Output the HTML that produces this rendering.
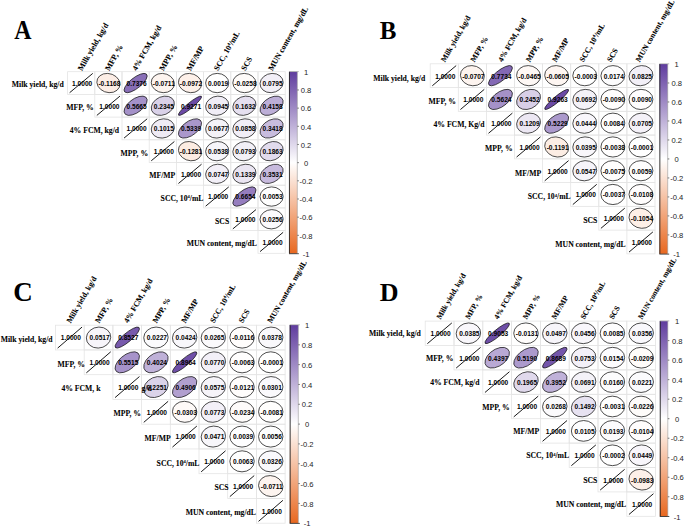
<!DOCTYPE html>
<html><head><meta charset="utf-8"><style>
html,body{margin:0;padding:0;background:#fff;width:685px;height:527px;overflow:hidden}
svg{display:block}

</style></head><body>
<svg width="685" height="527" viewBox="0 0 685 527">
<rect width="685" height="527" fill="#fff"/>
<g fill="none" stroke="#e4e4e4" stroke-width="0.8">
<rect x="67.60" y="71.70" width="27.20" height="22.70"/>
<rect x="94.80" y="71.70" width="27.20" height="22.70"/>
<rect x="122.00" y="71.70" width="27.20" height="22.70"/>
<rect x="149.20" y="71.70" width="27.20" height="22.70"/>
<rect x="176.40" y="71.70" width="27.20" height="22.70"/>
<rect x="203.60" y="71.70" width="27.20" height="22.70"/>
<rect x="230.80" y="71.70" width="27.20" height="22.70"/>
<rect x="258.00" y="71.70" width="27.20" height="22.70"/>
<rect x="94.80" y="94.40" width="27.20" height="22.70"/>
<rect x="122.00" y="94.40" width="27.20" height="22.70"/>
<rect x="149.20" y="94.40" width="27.20" height="22.70"/>
<rect x="176.40" y="94.40" width="27.20" height="22.70"/>
<rect x="203.60" y="94.40" width="27.20" height="22.70"/>
<rect x="230.80" y="94.40" width="27.20" height="22.70"/>
<rect x="258.00" y="94.40" width="27.20" height="22.70"/>
<rect x="122.00" y="117.10" width="27.20" height="22.70"/>
<rect x="149.20" y="117.10" width="27.20" height="22.70"/>
<rect x="176.40" y="117.10" width="27.20" height="22.70"/>
<rect x="203.60" y="117.10" width="27.20" height="22.70"/>
<rect x="230.80" y="117.10" width="27.20" height="22.70"/>
<rect x="258.00" y="117.10" width="27.20" height="22.70"/>
<rect x="149.20" y="139.80" width="27.20" height="22.70"/>
<rect x="176.40" y="139.80" width="27.20" height="22.70"/>
<rect x="203.60" y="139.80" width="27.20" height="22.70"/>
<rect x="230.80" y="139.80" width="27.20" height="22.70"/>
<rect x="258.00" y="139.80" width="27.20" height="22.70"/>
<rect x="176.40" y="162.50" width="27.20" height="22.70"/>
<rect x="203.60" y="162.50" width="27.20" height="22.70"/>
<rect x="230.80" y="162.50" width="27.20" height="22.70"/>
<rect x="258.00" y="162.50" width="27.20" height="22.70"/>
<rect x="203.60" y="185.20" width="27.20" height="22.70"/>
<rect x="230.80" y="185.20" width="27.20" height="22.70"/>
<rect x="258.00" y="185.20" width="27.20" height="22.70"/>
<rect x="230.80" y="207.90" width="27.20" height="22.70"/>
<rect x="258.00" y="207.90" width="27.20" height="22.70"/>
<rect x="258.00" y="230.60" width="27.20" height="22.70"/>
</g>
<g transform="translate(67.60 71.70) scale(27.200 22.700)">
<line x1="0.075" y1="0.925" x2="0.925" y2="0.075" stroke="#1a1a1a" stroke-width="1.0" vector-effect="non-scaling-stroke"/>
<ellipse cx="1.500" cy="0.500" rx="0.3994" ry="0.4491" transform="rotate(-45 1.500 0.500)" fill="#fcede5" stroke="#111" stroke-width="0.75" vector-effect="non-scaling-stroke"/>
<ellipse cx="2.500" cy="0.500" rx="0.5602" ry="0.2177" transform="rotate(-45 2.500 0.500)" fill="#896fb7" stroke="#111" stroke-width="0.75" vector-effect="non-scaling-stroke"/>
<ellipse cx="3.500" cy="0.500" rx="0.4096" ry="0.4398" transform="rotate(-45 3.500 0.500)" fill="#fdf4ef" stroke="#111" stroke-width="0.75" vector-effect="non-scaling-stroke"/>
<ellipse cx="4.500" cy="0.500" rx="0.4038" ry="0.4452" transform="rotate(-45 4.500 0.500)" fill="#fdf0e9" stroke="#111" stroke-width="0.75" vector-effect="non-scaling-stroke"/>
<ellipse cx="5.500" cy="0.500" rx="0.4254" ry="0.4246" transform="rotate(-45 5.500 0.500)" fill="#ffffff" stroke="#111" stroke-width="0.75" vector-effect="non-scaling-stroke"/>
<ellipse cx="6.500" cy="0.500" rx="0.4195" ry="0.4304" transform="rotate(-45 6.500 0.500)" fill="#fefbf9" stroke="#111" stroke-width="0.75" vector-effect="non-scaling-stroke"/>
<ellipse cx="7.500" cy="0.500" rx="0.4416" ry="0.4078" transform="rotate(-45 7.500 0.500)" fill="#f2eff7" stroke="#111" stroke-width="0.75" vector-effect="non-scaling-stroke"/>
<line x1="1.075" y1="1.925" x2="1.925" y2="1.075" stroke="#1a1a1a" stroke-width="1.0" vector-effect="non-scaling-stroke"/>
<ellipse cx="2.500" cy="1.500" rx="0.5319" ry="0.2798" transform="rotate(-45 2.500 1.500)" fill="#a491c8" stroke="#111" stroke-width="0.75" vector-effect="non-scaling-stroke"/>
<ellipse cx="3.500" cy="1.500" rx="0.4722" ry="0.3718" transform="rotate(-45 3.500 1.500)" fill="#d9d1e8" stroke="#111" stroke-width="0.75" vector-effect="non-scaling-stroke"/>
<ellipse cx="4.500" cy="1.500" rx="0.5900" ry="0.1147" transform="rotate(-45 4.500 1.500)" fill="#6b4aa5" stroke="#111" stroke-width="0.75" vector-effect="non-scaling-stroke"/>
<ellipse cx="5.500" cy="1.500" rx="0.4446" ry="0.4044" transform="rotate(-45 5.500 1.500)" fill="#f0edf6" stroke="#111" stroke-width="0.75" vector-effect="non-scaling-stroke"/>
<ellipse cx="6.500" cy="1.500" rx="0.4584" ry="0.3888" transform="rotate(-45 6.500 1.500)" fill="#e5dfef" stroke="#111" stroke-width="0.75" vector-effect="non-scaling-stroke"/>
<ellipse cx="7.500" cy="1.500" rx="0.5057" ry="0.3248" transform="rotate(-45 7.500 1.500)" fill="#bcaed7" stroke="#111" stroke-width="0.75" vector-effect="non-scaling-stroke"/>
<line x1="2.075" y1="2.925" x2="2.925" y2="2.075" stroke="#1a1a1a" stroke-width="1.0" vector-effect="non-scaling-stroke"/>
<ellipse cx="3.500" cy="2.500" rx="0.4460" ry="0.4029" transform="rotate(-45 3.500 2.500)" fill="#efebf5" stroke="#111" stroke-width="0.75" vector-effect="non-scaling-stroke"/>
<ellipse cx="4.500" cy="2.500" rx="0.5264" ry="0.2902" transform="rotate(-45 4.500 2.500)" fill="#aa97cb" stroke="#111" stroke-width="0.75" vector-effect="non-scaling-stroke"/>
<ellipse cx="5.500" cy="2.500" rx="0.4392" ry="0.4104" transform="rotate(-45 5.500 2.500)" fill="#f4f2f8" stroke="#111" stroke-width="0.75" vector-effect="non-scaling-stroke"/>
<ellipse cx="6.500" cy="2.500" rx="0.4429" ry="0.4064" transform="rotate(-45 6.500 2.500)" fill="#f1eef7" stroke="#111" stroke-width="0.75" vector-effect="non-scaling-stroke"/>
<ellipse cx="7.500" cy="2.500" rx="0.4923" ry="0.3448" transform="rotate(-45 7.500 2.500)" fill="#c8bcde" stroke="#111" stroke-width="0.75" vector-effect="non-scaling-stroke"/>
<line x1="3.075" y1="3.925" x2="3.925" y2="3.075" stroke="#1a1a1a" stroke-width="1.0" vector-effect="non-scaling-stroke"/>
<ellipse cx="4.500" cy="3.500" rx="0.3968" ry="0.4514" transform="rotate(-45 4.500 3.500)" fill="#fcece2" stroke="#111" stroke-width="0.75" vector-effect="non-scaling-stroke"/>
<ellipse cx="5.500" cy="3.500" rx="0.4363" ry="0.4134" transform="rotate(-45 5.500 3.500)" fill="#f6f5fa" stroke="#111" stroke-width="0.75" vector-effect="non-scaling-stroke"/>
<ellipse cx="6.500" cy="3.500" rx="0.4415" ry="0.4078" transform="rotate(-45 6.500 3.500)" fill="#f2f0f7" stroke="#111" stroke-width="0.75" vector-effect="non-scaling-stroke"/>
<ellipse cx="7.500" cy="3.500" rx="0.4629" ry="0.3834" transform="rotate(-45 7.500 3.500)" fill="#e1dbed" stroke="#111" stroke-width="0.75" vector-effect="non-scaling-stroke"/>
<line x1="4.075" y1="4.925" x2="4.925" y2="4.075" stroke="#1a1a1a" stroke-width="1.0" vector-effect="non-scaling-stroke"/>
<ellipse cx="5.500" cy="4.500" rx="0.4406" ry="0.4088" transform="rotate(-45 5.500 4.500)" fill="#f3f0f8" stroke="#111" stroke-width="0.75" vector-effect="non-scaling-stroke"/>
<ellipse cx="6.500" cy="4.500" rx="0.4526" ry="0.3955" transform="rotate(-45 6.500 4.500)" fill="#eae5f2" stroke="#111" stroke-width="0.75" vector-effect="non-scaling-stroke"/>
<ellipse cx="7.500" cy="4.500" rx="0.4944" ry="0.3418" transform="rotate(-45 7.500 4.500)" fill="#c7badd" stroke="#111" stroke-width="0.75" vector-effect="non-scaling-stroke"/>
<line x1="5.075" y1="5.925" x2="5.925" y2="5.075" stroke="#1a1a1a" stroke-width="1.0" vector-effect="non-scaling-stroke"/>
<ellipse cx="6.500" cy="5.500" rx="0.5485" ry="0.2458" transform="rotate(-45 6.500 5.500)" fill="#957dbe" stroke="#111" stroke-width="0.75" vector-effect="non-scaling-stroke"/>
<ellipse cx="7.500" cy="5.500" rx="0.4261" ry="0.4239" transform="rotate(-45 7.500 5.500)" fill="#fefefe" stroke="#111" stroke-width="0.75" vector-effect="non-scaling-stroke"/>
<line x1="6.075" y1="6.925" x2="6.925" y2="6.075" stroke="#1a1a1a" stroke-width="1.0" vector-effect="non-scaling-stroke"/>
<ellipse cx="7.500" cy="6.500" rx="0.4304" ry="0.4195" transform="rotate(-45 7.500 6.500)" fill="#fbfafd" stroke="#111" stroke-width="0.75" vector-effect="non-scaling-stroke"/>
<line x1="7.075" y1="7.925" x2="7.925" y2="7.075" stroke="#1a1a1a" stroke-width="1.0" vector-effect="non-scaling-stroke"/>
</g>
<g font-family="Liberation Sans" font-weight="bold" font-size="6.60" fill="#000" text-anchor="middle">
<text transform="translate(82.20 85.93) scale(1.000 1)">1.0000</text>
<text transform="translate(109.40 85.93) scale(1.000 1)">-0.1168</text>
<text transform="translate(136.60 85.93) scale(1.000 1)">0.7376</text>
<text transform="translate(163.80 85.93) scale(1.000 1)">-0.0711</text>
<text transform="translate(191.00 85.93) scale(1.000 1)">-0.0972</text>
<text transform="translate(218.20 85.93) scale(1.000 1)">0.0019</text>
<text transform="translate(245.40 85.93) scale(1.000 1)">-0.0258</text>
<text transform="translate(272.60 85.93) scale(1.000 1)">0.0795</text>
<text transform="translate(109.40 108.63) scale(1.000 1)">1.0000</text>
<text transform="translate(136.60 108.63) scale(1.000 1)">0.5665</text>
<text transform="translate(163.80 108.63) scale(1.000 1)">0.2345</text>
<text transform="translate(191.00 108.63) scale(1.000 1)">0.9271</text>
<text transform="translate(218.20 108.63) scale(1.000 1)">0.0945</text>
<text transform="translate(245.40 108.63) scale(1.000 1)">0.1632</text>
<text transform="translate(272.60 108.63) scale(1.000 1)">0.4158</text>
<text transform="translate(136.60 131.33) scale(1.000 1)">1.0000</text>
<text transform="translate(163.80 131.33) scale(1.000 1)">0.1015</text>
<text transform="translate(191.00 131.33) scale(1.000 1)">0.5339</text>
<text transform="translate(218.20 131.33) scale(1.000 1)">0.0677</text>
<text transform="translate(245.40 131.33) scale(1.000 1)">0.0858</text>
<text transform="translate(272.60 131.33) scale(1.000 1)">0.3418</text>
<text transform="translate(163.80 154.03) scale(1.000 1)">1.0000</text>
<text transform="translate(191.00 154.03) scale(1.000 1)">-0.1281</text>
<text transform="translate(218.20 154.03) scale(1.000 1)">0.0538</text>
<text transform="translate(245.40 154.03) scale(1.000 1)">0.0793</text>
<text transform="translate(272.60 154.03) scale(1.000 1)">0.1863</text>
<text transform="translate(191.00 176.73) scale(1.000 1)">1.0000</text>
<text transform="translate(218.20 176.73) scale(1.000 1)">0.0747</text>
<text transform="translate(245.40 176.73) scale(1.000 1)">0.1339</text>
<text transform="translate(272.60 176.73) scale(1.000 1)">0.3531</text>
<text transform="translate(218.20 199.43) scale(1.000 1)">1.0000</text>
<text transform="translate(245.40 199.43) scale(1.000 1)">0.6654</text>
<text transform="translate(272.60 199.43) scale(1.000 1)">0.0053</text>
<text transform="translate(245.40 222.13) scale(1.000 1)">1.0000</text>
<text transform="translate(272.60 222.13) scale(1.000 1)">0.0256</text>
<text transform="translate(272.60 244.83) scale(1.000 1)">1.0000</text>
</g>
<g font-family="Liberation Serif" font-weight="bold" font-size="7.70" fill="#000" stroke="#000" stroke-width="0.07" text-anchor="end">
<text x="63.70" y="87.49">Milk yield, kg/d</text>
<text x="93.70" y="110.19">MFP, %</text>
<text x="119.10" y="132.89">4% FCM, kg/d</text>
<text x="148.10" y="155.59">MPP, %</text>
<text x="175.30" y="178.29">MF/MP</text>
<text x="203.50" y="200.99">SCC, 10<tspan dy="-2.6" font-size="4.6">4</tspan><tspan dy="2.6">/mL</tspan></text>
<text x="229.20" y="223.69">SCS</text>
<text x="256.90" y="246.39">MUN content, mg/dL</text>
</g>
<g font-family="Liberation Serif" font-weight="bold" font-size="7.90" fill="#000" stroke="#000" stroke-width="0.07">
<text transform="translate(82.00 71.20) rotate(-60)">Milk yield, kg/d</text>
<text transform="translate(109.20 71.20) rotate(-60)">MFP, %</text>
<text transform="translate(136.40 71.20) rotate(-60)">4% FCM, kg/d</text>
<text transform="translate(163.60 71.20) rotate(-60)">MPP, %</text>
<text transform="translate(190.80 71.20) rotate(-60)">MF/MP</text>
<text transform="translate(218.00 71.20) rotate(-60)">SCC, 10<tspan dy="-2.6" font-size="4.6">4</tspan><tspan dy="2.6">/mL</tspan></text>
<text transform="translate(245.20 71.20) rotate(-60)">SCS</text>
<text transform="translate(272.40 71.20) rotate(-60)">MUN content, mg/dL</text>
</g>
<defs><linearGradient id="gA" x1="0" y1="0" x2="0" y2="1"><stop offset="0" stop-color="#5f3c9e"/><stop offset="0.5" stop-color="#ffffff"/><stop offset="1" stop-color="#e86820"/></linearGradient></defs>
<rect x="289.00" y="71.80" width="8.30" height="181.70" fill="url(#gA)"/>
<line x1="289.45" y1="71.80" x2="289.45" y2="253.50" stroke="#222" stroke-width="0.9"/>
<line x1="289.00" y1="71.60" x2="298.80" y2="71.60" stroke="#999" stroke-width="0.7"/>
<line x1="289.00" y1="253.70" x2="298.80" y2="253.70" stroke="#333" stroke-width="0.9"/>
<line x1="297.30" y1="71.80" x2="297.30" y2="253.50" stroke="#999" stroke-width="0.6"/>
<g font-family="Liberation Sans" font-size="7.6" fill="#222" text-anchor="middle">
<text transform="translate(306.00 75.00) scale(1.0 1)">1</text>
<text transform="translate(306.00 93.17) scale(1.0 1)">0.8</text>
<line x1="297.30" y1="89.97" x2="298.90" y2="89.97" stroke="#444" stroke-width="0.7"/>
<text transform="translate(306.00 111.34) scale(1.0 1)">0.6</text>
<line x1="297.30" y1="108.14" x2="298.90" y2="108.14" stroke="#444" stroke-width="0.7"/>
<text transform="translate(306.00 129.51) scale(1.0 1)">0.4</text>
<line x1="297.30" y1="126.31" x2="298.90" y2="126.31" stroke="#444" stroke-width="0.7"/>
<text transform="translate(306.00 147.68) scale(1.0 1)">0.2</text>
<line x1="297.30" y1="144.48" x2="298.90" y2="144.48" stroke="#444" stroke-width="0.7"/>
<text transform="translate(306.00 165.85) scale(1.0 1)">0</text>
<line x1="297.30" y1="162.65" x2="298.90" y2="162.65" stroke="#444" stroke-width="0.7"/>
<text transform="translate(306.00 184.02) scale(1.0 1)">-0.2</text>
<line x1="297.30" y1="180.82" x2="298.90" y2="180.82" stroke="#444" stroke-width="0.7"/>
<text transform="translate(306.00 202.19) scale(1.0 1)">-0.4</text>
<line x1="297.30" y1="198.99" x2="298.90" y2="198.99" stroke="#444" stroke-width="0.7"/>
<text transform="translate(306.00 220.36) scale(1.0 1)">-0.6</text>
<line x1="297.30" y1="217.16" x2="298.90" y2="217.16" stroke="#444" stroke-width="0.7"/>
<text transform="translate(306.00 238.53) scale(1.0 1)">-0.8</text>
<line x1="297.30" y1="235.33" x2="298.90" y2="235.33" stroke="#444" stroke-width="0.7"/>
<text transform="translate(306.00 256.70) scale(1.0 1)">-1</text>
</g>
<text transform="translate(14.20 39.00) scale(0.900 1)" font-family="Liberation Serif" font-weight="bold" font-size="26.50" fill="#000">A</text>
<g fill="none" stroke="#e4e4e4" stroke-width="0.8">
<rect x="430.20" y="63.80" width="28.10" height="23.76"/>
<rect x="458.30" y="63.80" width="28.10" height="23.76"/>
<rect x="486.40" y="63.80" width="28.10" height="23.76"/>
<rect x="514.50" y="63.80" width="28.10" height="23.76"/>
<rect x="542.60" y="63.80" width="28.10" height="23.76"/>
<rect x="570.70" y="63.80" width="28.10" height="23.76"/>
<rect x="598.80" y="63.80" width="28.10" height="23.76"/>
<rect x="626.90" y="63.80" width="28.10" height="23.76"/>
<rect x="458.30" y="87.56" width="28.10" height="23.76"/>
<rect x="486.40" y="87.56" width="28.10" height="23.76"/>
<rect x="514.50" y="87.56" width="28.10" height="23.76"/>
<rect x="542.60" y="87.56" width="28.10" height="23.76"/>
<rect x="570.70" y="87.56" width="28.10" height="23.76"/>
<rect x="598.80" y="87.56" width="28.10" height="23.76"/>
<rect x="626.90" y="87.56" width="28.10" height="23.76"/>
<rect x="486.40" y="111.32" width="28.10" height="23.76"/>
<rect x="514.50" y="111.32" width="28.10" height="23.76"/>
<rect x="542.60" y="111.32" width="28.10" height="23.76"/>
<rect x="570.70" y="111.32" width="28.10" height="23.76"/>
<rect x="598.80" y="111.32" width="28.10" height="23.76"/>
<rect x="626.90" y="111.32" width="28.10" height="23.76"/>
<rect x="514.50" y="135.08" width="28.10" height="23.76"/>
<rect x="542.60" y="135.08" width="28.10" height="23.76"/>
<rect x="570.70" y="135.08" width="28.10" height="23.76"/>
<rect x="598.80" y="135.08" width="28.10" height="23.76"/>
<rect x="626.90" y="135.08" width="28.10" height="23.76"/>
<rect x="542.60" y="158.84" width="28.10" height="23.76"/>
<rect x="570.70" y="158.84" width="28.10" height="23.76"/>
<rect x="598.80" y="158.84" width="28.10" height="23.76"/>
<rect x="626.90" y="158.84" width="28.10" height="23.76"/>
<rect x="570.70" y="182.60" width="28.10" height="23.76"/>
<rect x="598.80" y="182.60" width="28.10" height="23.76"/>
<rect x="626.90" y="182.60" width="28.10" height="23.76"/>
<rect x="598.80" y="206.36" width="28.10" height="23.76"/>
<rect x="626.90" y="206.36" width="28.10" height="23.76"/>
<rect x="626.90" y="230.12" width="28.10" height="23.76"/>
</g>
<g transform="translate(430.20 63.80) scale(28.100 23.760)">
<line x1="0.075" y1="0.925" x2="0.925" y2="0.075" stroke="#1a1a1a" stroke-width="1.0" vector-effect="non-scaling-stroke"/>
<ellipse cx="1.500" cy="0.500" rx="0.4097" ry="0.4398" transform="rotate(-45 1.500 0.500)" fill="#fdf4ef" stroke="#111" stroke-width="0.75" vector-effect="non-scaling-stroke"/>
<ellipse cx="2.500" cy="0.500" rx="0.5660" ry="0.2023" transform="rotate(-45 2.500 0.500)" fill="#8368b4" stroke="#111" stroke-width="0.75" vector-effect="non-scaling-stroke"/>
<ellipse cx="3.500" cy="0.500" rx="0.4150" ry="0.4348" transform="rotate(-45 3.500 0.500)" fill="#fef8f5" stroke="#111" stroke-width="0.75" vector-effect="non-scaling-stroke"/>
<ellipse cx="4.500" cy="0.500" rx="0.4119" ry="0.4377" transform="rotate(-45 4.500 0.500)" fill="#fef6f2" stroke="#111" stroke-width="0.75" vector-effect="non-scaling-stroke"/>
<ellipse cx="5.500" cy="0.500" rx="0.4249" ry="0.4251" transform="rotate(-45 5.500 0.500)" fill="#ffffff" stroke="#111" stroke-width="0.75" vector-effect="non-scaling-stroke"/>
<ellipse cx="6.500" cy="0.500" rx="0.4287" ry="0.4213" transform="rotate(-45 6.500 0.500)" fill="#fcfcfd" stroke="#111" stroke-width="0.75" vector-effect="non-scaling-stroke"/>
<ellipse cx="7.500" cy="0.500" rx="0.4422" ry="0.4071" transform="rotate(-45 7.500 0.500)" fill="#f2eff7" stroke="#111" stroke-width="0.75" vector-effect="non-scaling-stroke"/>
<line x1="1.075" y1="1.925" x2="1.925" y2="1.075" stroke="#1a1a1a" stroke-width="1.0" vector-effect="non-scaling-stroke"/>
<ellipse cx="2.500" cy="1.500" rx="0.5312" ry="0.2811" transform="rotate(-45 2.500 1.500)" fill="#a591c8" stroke="#111" stroke-width="0.75" vector-effect="non-scaling-stroke"/>
<ellipse cx="3.500" cy="1.500" rx="0.4743" ry="0.3692" transform="rotate(-45 3.500 1.500)" fill="#d8cfe7" stroke="#111" stroke-width="0.75" vector-effect="non-scaling-stroke"/>
<ellipse cx="4.500" cy="1.500" rx="0.5899" ry="0.1154" transform="rotate(-45 4.500 1.500)" fill="#6b4aa5" stroke="#111" stroke-width="0.75" vector-effect="non-scaling-stroke"/>
<ellipse cx="5.500" cy="1.500" rx="0.4395" ry="0.4100" transform="rotate(-45 5.500 1.500)" fill="#f4f2f8" stroke="#111" stroke-width="0.75" vector-effect="non-scaling-stroke"/>
<ellipse cx="6.500" cy="1.500" rx="0.4231" ry="0.4269" transform="rotate(-45 6.500 1.500)" fill="#fffefd" stroke="#111" stroke-width="0.75" vector-effect="non-scaling-stroke"/>
<ellipse cx="7.500" cy="1.500" rx="0.4269" ry="0.4231" transform="rotate(-45 7.500 1.500)" fill="#fefdfe" stroke="#111" stroke-width="0.75" vector-effect="non-scaling-stroke"/>
<line x1="2.075" y1="2.925" x2="2.925" y2="2.075" stroke="#1a1a1a" stroke-width="1.0" vector-effect="non-scaling-stroke"/>
<ellipse cx="3.500" cy="2.500" rx="0.4500" ry="0.3985" transform="rotate(-45 3.500 2.500)" fill="#ece7f3" stroke="#111" stroke-width="0.75" vector-effect="non-scaling-stroke"/>
<ellipse cx="4.500" cy="2.500" rx="0.5245" ry="0.2936" transform="rotate(-45 4.500 2.500)" fill="#ab99cc" stroke="#111" stroke-width="0.75" vector-effect="non-scaling-stroke"/>
<ellipse cx="5.500" cy="2.500" rx="0.4343" ry="0.4155" transform="rotate(-45 5.500 2.500)" fill="#f8f6fb" stroke="#111" stroke-width="0.75" vector-effect="non-scaling-stroke"/>
<ellipse cx="6.500" cy="2.500" rx="0.4268" ry="0.4232" transform="rotate(-45 6.500 2.500)" fill="#fefdfe" stroke="#111" stroke-width="0.75" vector-effect="non-scaling-stroke"/>
<ellipse cx="7.500" cy="2.500" rx="0.4397" ry="0.4097" transform="rotate(-45 7.500 2.500)" fill="#f4f1f8" stroke="#111" stroke-width="0.75" vector-effect="non-scaling-stroke"/>
<line x1="3.075" y1="3.925" x2="3.925" y2="3.075" stroke="#1a1a1a" stroke-width="1.0" vector-effect="non-scaling-stroke"/>
<ellipse cx="4.500" cy="3.500" rx="0.3989" ry="0.4496" transform="rotate(-45 4.500 3.500)" fill="#fcede4" stroke="#111" stroke-width="0.75" vector-effect="non-scaling-stroke"/>
<ellipse cx="5.500" cy="3.500" rx="0.4333" ry="0.4165" transform="rotate(-45 5.500 3.500)" fill="#f9f7fb" stroke="#111" stroke-width="0.75" vector-effect="non-scaling-stroke"/>
<ellipse cx="6.500" cy="3.500" rx="0.4242" ry="0.4258" transform="rotate(-45 6.500 3.500)" fill="#fffefe" stroke="#111" stroke-width="0.75" vector-effect="non-scaling-stroke"/>
<ellipse cx="7.500" cy="3.500" rx="0.4250" ry="0.4250" transform="rotate(-45 7.500 3.500)" fill="#ffffff" stroke="#111" stroke-width="0.75" vector-effect="non-scaling-stroke"/>
<line x1="4.075" y1="4.925" x2="4.925" y2="4.075" stroke="#1a1a1a" stroke-width="1.0" vector-effect="non-scaling-stroke"/>
<ellipse cx="5.500" cy="4.500" rx="0.4365" ry="0.4132" transform="rotate(-45 5.500 4.500)" fill="#f6f4fa" stroke="#111" stroke-width="0.75" vector-effect="non-scaling-stroke"/>
<ellipse cx="6.500" cy="4.500" rx="0.4234" ry="0.4266" transform="rotate(-45 6.500 4.500)" fill="#fffefd" stroke="#111" stroke-width="0.75" vector-effect="non-scaling-stroke"/>
<ellipse cx="7.500" cy="4.500" rx="0.4263" ry="0.4237" transform="rotate(-45 7.500 4.500)" fill="#fefefe" stroke="#111" stroke-width="0.75" vector-effect="non-scaling-stroke"/>
<line x1="5.075" y1="5.925" x2="5.925" y2="5.075" stroke="#1a1a1a" stroke-width="1.0" vector-effect="non-scaling-stroke"/>
<ellipse cx="6.500" cy="5.500" rx="0.4242" ry="0.4258" transform="rotate(-45 6.500 5.500)" fill="#fffefe" stroke="#111" stroke-width="0.75" vector-effect="non-scaling-stroke"/>
<ellipse cx="7.500" cy="5.500" rx="0.4227" ry="0.4273" transform="rotate(-45 7.500 5.500)" fill="#fffdfd" stroke="#111" stroke-width="0.75" vector-effect="non-scaling-stroke"/>
<line x1="6.075" y1="6.925" x2="6.925" y2="6.075" stroke="#1a1a1a" stroke-width="1.0" vector-effect="non-scaling-stroke"/>
<ellipse cx="7.500" cy="6.500" rx="0.4020" ry="0.4468" transform="rotate(-45 7.500 6.500)" fill="#fdefe7" stroke="#111" stroke-width="0.75" vector-effect="non-scaling-stroke"/>
<line x1="7.075" y1="7.925" x2="7.925" y2="7.075" stroke="#1a1a1a" stroke-width="1.0" vector-effect="non-scaling-stroke"/>
</g>
<g font-family="Liberation Sans" font-weight="bold" font-size="6.60" fill="#000" text-anchor="middle">
<text transform="translate(445.25 78.56) scale(1.000 1)">1.0000</text>
<text transform="translate(473.35 78.56) scale(1.000 1)">-0.0707</text>
<text transform="translate(501.45 78.56) scale(1.000 1)">0.7734</text>
<text transform="translate(529.55 78.56) scale(1.000 1)">-0.0465</text>
<text transform="translate(557.65 78.56) scale(1.000 1)">-0.0605</text>
<text transform="translate(585.75 78.56) scale(1.000 1)">-0.0003</text>
<text transform="translate(613.85 78.56) scale(1.000 1)">0.0174</text>
<text transform="translate(641.95 78.56) scale(1.000 1)">0.0825</text>
<text transform="translate(473.35 102.32) scale(1.000 1)">1.0000</text>
<text transform="translate(501.45 102.32) scale(1.000 1)">0.5624</text>
<text transform="translate(529.55 102.32) scale(1.000 1)">0.2452</text>
<text transform="translate(557.65 102.32) scale(1.000 1)">0.9263</text>
<text transform="translate(585.75 102.32) scale(1.000 1)">0.0692</text>
<text transform="translate(613.85 102.32) scale(1.000 1)">-0.0090</text>
<text transform="translate(641.95 102.32) scale(1.000 1)">0.0090</text>
<text transform="translate(501.45 126.08) scale(1.000 1)">1.0000</text>
<text transform="translate(529.55 126.08) scale(1.000 1)">0.1209</text>
<text transform="translate(557.65 126.08) scale(1.000 1)">0.5229</text>
<text transform="translate(585.75 126.08) scale(1.000 1)">0.0444</text>
<text transform="translate(613.85 126.08) scale(1.000 1)">0.0084</text>
<text transform="translate(641.95 126.08) scale(1.000 1)">0.0705</text>
<text transform="translate(529.55 149.84) scale(1.000 1)">1.0000</text>
<text transform="translate(557.65 149.84) scale(1.000 1)">-0.1191</text>
<text transform="translate(585.75 149.84) scale(1.000 1)">0.0395</text>
<text transform="translate(613.85 149.84) scale(1.000 1)">-0.0038</text>
<text transform="translate(641.95 149.84) scale(1.000 1)">-0.0001</text>
<text transform="translate(557.65 173.60) scale(1.000 1)">1.0000</text>
<text transform="translate(585.75 173.60) scale(1.000 1)">0.0547</text>
<text transform="translate(613.85 173.60) scale(1.000 1)">-0.0075</text>
<text transform="translate(641.95 173.60) scale(1.000 1)">0.0059</text>
<text transform="translate(585.75 197.36) scale(1.000 1)">1.0000</text>
<text transform="translate(613.85 197.36) scale(1.000 1)">-0.0037</text>
<text transform="translate(641.95 197.36) scale(1.000 1)">-0.0108</text>
<text transform="translate(613.85 221.12) scale(1.000 1)">1.0000</text>
<text transform="translate(641.95 221.12) scale(1.000 1)">-0.1054</text>
<text transform="translate(641.95 244.88) scale(1.000 1)">1.0000</text>
</g>
<g font-family="Liberation Serif" font-weight="bold" font-size="7.70" fill="#000" stroke="#000" stroke-width="0.07" text-anchor="end">
<text x="425.20" y="80.52">Milk yield, kg/d</text>
<text x="456.00" y="103.78">MFP, %</text>
<text x="484.50" y="127.14">4% FCM, Kg/d</text>
<text x="512.60" y="150.80">MPP, %</text>
<text x="541.10" y="175.56">MF/MP</text>
<text x="570.70" y="199.32">SCC, 10<tspan dy="-2.6" font-size="4.6">4</tspan><tspan dy="2.6">/mL</tspan></text>
<text x="597.30" y="223.08">SCS</text>
<text x="625.60" y="246.84">MUN content, mg/dL</text>
</g>
<g font-family="Liberation Serif" font-weight="bold" font-size="7.70" fill="#000" stroke="#000" stroke-width="0.07">
<text transform="translate(445.05 62.40) rotate(-60)">Milk yield, kg/d</text>
<text transform="translate(474.55 62.40) rotate(-60)">MFP, %</text>
<text transform="translate(502.15 62.40) rotate(-60)">4% FCM, kg/d</text>
<text transform="translate(529.95 62.40) rotate(-60)">MPP, %</text>
<text transform="translate(556.15 62.40) rotate(-60)">MF/MP</text>
<text transform="translate(583.55 62.40) rotate(-60)">SCC, 10<tspan dy="-2.6" font-size="4.6">4</tspan><tspan dy="2.6">/mL</tspan></text>
<text transform="translate(611.05 62.40) rotate(-60)">SCS</text>
<text transform="translate(639.75 62.40) rotate(-60)">MUN content, mg/dL</text>
</g>
<defs><linearGradient id="gB" x1="0" y1="0" x2="0" y2="1"><stop offset="0" stop-color="#5f3c9e"/><stop offset="0.5" stop-color="#ffffff"/><stop offset="1" stop-color="#e86820"/></linearGradient></defs>
<rect x="659.40" y="64.00" width="8.30" height="189.90" fill="url(#gB)"/>
<line x1="659.85" y1="64.00" x2="659.85" y2="253.90" stroke="#222" stroke-width="0.9"/>
<line x1="659.40" y1="63.80" x2="669.20" y2="63.80" stroke="#999" stroke-width="0.7"/>
<line x1="659.40" y1="254.10" x2="669.20" y2="254.10" stroke="#333" stroke-width="0.9"/>
<line x1="667.70" y1="64.00" x2="667.70" y2="253.90" stroke="#999" stroke-width="0.6"/>
<g font-family="Liberation Sans" font-size="7.6" fill="#222" text-anchor="middle">
<text transform="translate(676.70 67.20) scale(1.0 1)">1</text>
<text transform="translate(676.70 86.19) scale(1.0 1)">0.8</text>
<line x1="667.70" y1="82.99" x2="669.30" y2="82.99" stroke="#444" stroke-width="0.7"/>
<text transform="translate(676.70 105.18) scale(1.0 1)">0.6</text>
<line x1="667.70" y1="101.98" x2="669.30" y2="101.98" stroke="#444" stroke-width="0.7"/>
<text transform="translate(676.70 124.17) scale(1.0 1)">0.4</text>
<line x1="667.70" y1="120.97" x2="669.30" y2="120.97" stroke="#444" stroke-width="0.7"/>
<text transform="translate(676.70 143.16) scale(1.0 1)">0.2</text>
<line x1="667.70" y1="139.96" x2="669.30" y2="139.96" stroke="#444" stroke-width="0.7"/>
<text transform="translate(676.70 162.15) scale(1.0 1)">0</text>
<line x1="667.70" y1="158.95" x2="669.30" y2="158.95" stroke="#444" stroke-width="0.7"/>
<text transform="translate(676.70 181.14) scale(1.0 1)">-0.2</text>
<line x1="667.70" y1="177.94" x2="669.30" y2="177.94" stroke="#444" stroke-width="0.7"/>
<text transform="translate(676.70 200.13) scale(1.0 1)">-0.4</text>
<line x1="667.70" y1="196.93" x2="669.30" y2="196.93" stroke="#444" stroke-width="0.7"/>
<text transform="translate(676.70 219.12) scale(1.0 1)">-0.6</text>
<line x1="667.70" y1="215.92" x2="669.30" y2="215.92" stroke="#444" stroke-width="0.7"/>
<text transform="translate(676.70 238.11) scale(1.0 1)">-0.8</text>
<line x1="667.70" y1="234.91" x2="669.30" y2="234.91" stroke="#444" stroke-width="0.7"/>
<text transform="translate(676.70 257.10) scale(1.0 1)">-1</text>
</g>
<text transform="translate(379.80 39.00) scale(0.960 1)" font-family="Liberation Serif" font-weight="bold" font-size="26.00" fill="#000">B</text>
<g fill="none" stroke="#e4e4e4" stroke-width="0.8">
<rect x="55.50" y="325.20" width="28.70" height="24.75"/>
<rect x="84.20" y="325.20" width="28.70" height="24.75"/>
<rect x="112.90" y="325.20" width="28.70" height="24.75"/>
<rect x="141.60" y="325.20" width="28.70" height="24.75"/>
<rect x="170.30" y="325.20" width="28.70" height="24.75"/>
<rect x="199.00" y="325.20" width="28.70" height="24.75"/>
<rect x="227.70" y="325.20" width="28.70" height="24.75"/>
<rect x="256.40" y="325.20" width="28.70" height="24.75"/>
<rect x="84.20" y="349.95" width="28.70" height="24.75"/>
<rect x="112.90" y="349.95" width="28.70" height="24.75"/>
<rect x="141.60" y="349.95" width="28.70" height="24.75"/>
<rect x="170.30" y="349.95" width="28.70" height="24.75"/>
<rect x="199.00" y="349.95" width="28.70" height="24.75"/>
<rect x="227.70" y="349.95" width="28.70" height="24.75"/>
<rect x="256.40" y="349.95" width="28.70" height="24.75"/>
<rect x="112.90" y="374.70" width="28.70" height="24.75"/>
<rect x="141.60" y="374.70" width="28.70" height="24.75"/>
<rect x="170.30" y="374.70" width="28.70" height="24.75"/>
<rect x="199.00" y="374.70" width="28.70" height="24.75"/>
<rect x="227.70" y="374.70" width="28.70" height="24.75"/>
<rect x="256.40" y="374.70" width="28.70" height="24.75"/>
<rect x="141.60" y="399.45" width="28.70" height="24.75"/>
<rect x="170.30" y="399.45" width="28.70" height="24.75"/>
<rect x="199.00" y="399.45" width="28.70" height="24.75"/>
<rect x="227.70" y="399.45" width="28.70" height="24.75"/>
<rect x="256.40" y="399.45" width="28.70" height="24.75"/>
<rect x="170.30" y="424.20" width="28.70" height="24.75"/>
<rect x="199.00" y="424.20" width="28.70" height="24.75"/>
<rect x="227.70" y="424.20" width="28.70" height="24.75"/>
<rect x="256.40" y="424.20" width="28.70" height="24.75"/>
<rect x="199.00" y="448.95" width="28.70" height="24.75"/>
<rect x="227.70" y="448.95" width="28.70" height="24.75"/>
<rect x="256.40" y="448.95" width="28.70" height="24.75"/>
<rect x="227.70" y="473.70" width="28.70" height="24.75"/>
<rect x="256.40" y="473.70" width="28.70" height="24.75"/>
<rect x="256.40" y="498.45" width="28.70" height="24.75"/>
</g>
<g transform="translate(55.50 325.20) scale(28.700 24.750)">
<line x1="0.075" y1="0.925" x2="0.925" y2="0.075" stroke="#1a1a1a" stroke-width="1.0" vector-effect="non-scaling-stroke"/>
<ellipse cx="1.500" cy="0.500" rx="0.4358" ry="0.4139" transform="rotate(-45 1.500 0.500)" fill="#f7f5fa" stroke="#111" stroke-width="0.75" vector-effect="non-scaling-stroke"/>
<ellipse cx="2.500" cy="0.500" rx="0.5785" ry="0.1631" transform="rotate(-45 2.500 0.500)" fill="#7759ac" stroke="#111" stroke-width="0.75" vector-effect="non-scaling-stroke"/>
<ellipse cx="3.500" cy="0.500" rx="0.4298" ry="0.4201" transform="rotate(-45 3.500 0.500)" fill="#fbfbfd" stroke="#111" stroke-width="0.75" vector-effect="non-scaling-stroke"/>
<ellipse cx="4.500" cy="0.500" rx="0.4339" ry="0.4159" transform="rotate(-45 4.500 0.500)" fill="#f8f7fb" stroke="#111" stroke-width="0.75" vector-effect="non-scaling-stroke"/>
<ellipse cx="5.500" cy="0.500" rx="0.4306" ry="0.4193" transform="rotate(-45 5.500 0.500)" fill="#fbfafc" stroke="#111" stroke-width="0.75" vector-effect="non-scaling-stroke"/>
<ellipse cx="6.500" cy="0.500" rx="0.4225" ry="0.4275" transform="rotate(-45 6.500 0.500)" fill="#fffdfc" stroke="#111" stroke-width="0.75" vector-effect="non-scaling-stroke"/>
<ellipse cx="7.500" cy="0.500" rx="0.4330" ry="0.4169" transform="rotate(-45 7.500 0.500)" fill="#f9f8fb" stroke="#111" stroke-width="0.75" vector-effect="non-scaling-stroke"/>
<line x1="1.075" y1="1.925" x2="1.925" y2="1.075" stroke="#1a1a1a" stroke-width="1.0" vector-effect="non-scaling-stroke"/>
<ellipse cx="2.500" cy="1.500" rx="0.5294" ry="0.2846" transform="rotate(-45 2.500 1.500)" fill="#a793ca" stroke="#111" stroke-width="0.75" vector-effect="non-scaling-stroke"/>
<ellipse cx="3.500" cy="1.500" rx="0.5033" ry="0.3285" transform="rotate(-45 3.500 1.500)" fill="#bfb1d8" stroke="#111" stroke-width="0.75" vector-effect="non-scaling-stroke"/>
<ellipse cx="4.500" cy="1.500" rx="0.5853" ry="0.1368" transform="rotate(-45 4.500 1.500)" fill="#7050a8" stroke="#111" stroke-width="0.75" vector-effect="non-scaling-stroke"/>
<ellipse cx="5.500" cy="1.500" rx="0.4411" ry="0.4083" transform="rotate(-45 5.500 1.500)" fill="#f3f0f8" stroke="#111" stroke-width="0.75" vector-effect="non-scaling-stroke"/>
<ellipse cx="6.500" cy="1.500" rx="0.4237" ry="0.4263" transform="rotate(-45 6.500 1.500)" fill="#fffefe" stroke="#111" stroke-width="0.75" vector-effect="non-scaling-stroke"/>
<ellipse cx="7.500" cy="1.500" rx="0.4250" ry="0.4250" transform="rotate(-45 7.500 1.500)" fill="#ffffff" stroke="#111" stroke-width="0.75" vector-effect="non-scaling-stroke"/>
<line x1="2.075" y1="2.925" x2="2.925" y2="2.075" stroke="#1a1a1a" stroke-width="1.0" vector-effect="non-scaling-stroke"/>
<ellipse cx="3.500" cy="2.500" rx="0.4704" ry="0.3741" transform="rotate(-45 3.500 2.500)" fill="#dbd3e9" stroke="#111" stroke-width="0.75" vector-effect="non-scaling-stroke"/>
<ellipse cx="4.500" cy="2.500" rx="0.5189" ry="0.3033" transform="rotate(-45 4.500 2.500)" fill="#b19fcf" stroke="#111" stroke-width="0.75" vector-effect="non-scaling-stroke"/>
<ellipse cx="5.500" cy="2.500" rx="0.4370" ry="0.4126" transform="rotate(-45 5.500 2.500)" fill="#f6f4f9" stroke="#111" stroke-width="0.75" vector-effect="non-scaling-stroke"/>
<ellipse cx="6.500" cy="2.500" rx="0.4224" ry="0.4276" transform="rotate(-45 6.500 2.500)" fill="#fffdfc" stroke="#111" stroke-width="0.75" vector-effect="non-scaling-stroke"/>
<ellipse cx="7.500" cy="2.500" rx="0.4313" ry="0.4186" transform="rotate(-45 7.500 2.500)" fill="#faf9fc" stroke="#111" stroke-width="0.75" vector-effect="non-scaling-stroke"/>
<line x1="3.075" y1="3.925" x2="3.925" y2="3.075" stroke="#1a1a1a" stroke-width="1.0" vector-effect="non-scaling-stroke"/>
<ellipse cx="4.500" cy="3.500" rx="0.4185" ry="0.4314" transform="rotate(-45 4.500 3.500)" fill="#fefaf8" stroke="#111" stroke-width="0.75" vector-effect="non-scaling-stroke"/>
<ellipse cx="5.500" cy="3.500" rx="0.4411" ry="0.4082" transform="rotate(-45 5.500 3.500)" fill="#f3f0f8" stroke="#111" stroke-width="0.75" vector-effect="non-scaling-stroke"/>
<ellipse cx="6.500" cy="3.500" rx="0.4200" ry="0.4299" transform="rotate(-45 6.500 3.500)" fill="#fefbfa" stroke="#111" stroke-width="0.75" vector-effect="non-scaling-stroke"/>
<ellipse cx="7.500" cy="3.500" rx="0.4233" ry="0.4267" transform="rotate(-45 7.500 3.500)" fill="#fffefd" stroke="#111" stroke-width="0.75" vector-effect="non-scaling-stroke"/>
<line x1="4.075" y1="4.925" x2="4.925" y2="4.075" stroke="#1a1a1a" stroke-width="1.0" vector-effect="non-scaling-stroke"/>
<ellipse cx="5.500" cy="4.500" rx="0.4349" ry="0.4149" transform="rotate(-45 5.500 4.500)" fill="#f7f6fa" stroke="#111" stroke-width="0.75" vector-effect="non-scaling-stroke"/>
<ellipse cx="6.500" cy="4.500" rx="0.4258" ry="0.4242" transform="rotate(-45 6.500 4.500)" fill="#fefeff" stroke="#111" stroke-width="0.75" vector-effect="non-scaling-stroke"/>
<ellipse cx="7.500" cy="4.500" rx="0.4262" ry="0.4238" transform="rotate(-45 7.500 4.500)" fill="#fefefe" stroke="#111" stroke-width="0.75" vector-effect="non-scaling-stroke"/>
<line x1="5.075" y1="5.925" x2="5.925" y2="5.075" stroke="#1a1a1a" stroke-width="1.0" vector-effect="non-scaling-stroke"/>
<ellipse cx="6.500" cy="5.500" rx="0.4263" ry="0.4237" transform="rotate(-45 6.500 5.500)" fill="#fefefe" stroke="#111" stroke-width="0.75" vector-effect="non-scaling-stroke"/>
<ellipse cx="7.500" cy="5.500" rx="0.4319" ry="0.4180" transform="rotate(-45 7.500 5.500)" fill="#faf9fc" stroke="#111" stroke-width="0.75" vector-effect="non-scaling-stroke"/>
<line x1="6.075" y1="6.925" x2="6.925" y2="6.075" stroke="#1a1a1a" stroke-width="1.0" vector-effect="non-scaling-stroke"/>
<ellipse cx="7.500" cy="6.500" rx="0.4096" ry="0.4398" transform="rotate(-45 7.500 6.500)" fill="#fdf4ef" stroke="#111" stroke-width="0.75" vector-effect="non-scaling-stroke"/>
<line x1="7.075" y1="7.925" x2="7.925" y2="7.075" stroke="#1a1a1a" stroke-width="1.0" vector-effect="non-scaling-stroke"/>
</g>
<g font-family="Liberation Sans" font-weight="bold" font-size="6.60" fill="#000" text-anchor="middle">
<text transform="translate(70.85 340.45) scale(1.000 1)">1.0000</text>
<text transform="translate(99.55 340.45) scale(1.000 1)">0.0517</text>
<text transform="translate(128.25 340.45) scale(1.000 1)">0.8527</text>
<text transform="translate(156.95 340.45) scale(1.000 1)">0.0227</text>
<text transform="translate(185.65 340.45) scale(1.000 1)">0.0424</text>
<text transform="translate(214.35 340.45) scale(1.000 1)">0.0265</text>
<text transform="translate(243.05 340.45) scale(1.000 1)">-0.0116</text>
<text transform="translate(271.75 340.45) scale(1.000 1)">0.0378</text>
<text transform="translate(99.55 365.20) scale(1.000 1)">1.0000</text>
<text transform="translate(128.25 365.20) scale(1.000 1)">0.5515</text>
<text transform="translate(156.95 365.20) scale(1.000 1)">0.4024</text>
<text transform="translate(185.65 365.20) scale(1.000 1)">0.8964</text>
<text transform="translate(214.35 365.20) scale(1.000 1)">0.0770</text>
<text transform="translate(243.05 365.20) scale(1.000 1)">-0.0063</text>
<text transform="translate(271.75 365.20) scale(1.000 1)">-0.0001</text>
<text transform="translate(128.25 389.95) scale(1.000 1)">1.0000</text>
<text transform="translate(156.95 389.95) scale(1.000 1)">0.2251</text>
<text transform="translate(185.65 389.95) scale(1.000 1)">0.4906</text>
<text transform="translate(214.35 389.95) scale(1.000 1)">0.0575</text>
<text transform="translate(243.05 389.95) scale(1.000 1)">-0.0121</text>
<text transform="translate(271.75 389.95) scale(1.000 1)">0.0301</text>
<text transform="translate(156.95 414.70) scale(1.000 1)">1.0000</text>
<text transform="translate(185.65 414.70) scale(1.000 1)">-0.0303</text>
<text transform="translate(214.35 414.70) scale(1.000 1)">0.0773</text>
<text transform="translate(243.05 414.70) scale(1.000 1)">-0.0234</text>
<text transform="translate(271.75 414.70) scale(1.000 1)">-0.0081</text>
<text transform="translate(185.65 439.45) scale(1.000 1)">1.0000</text>
<text transform="translate(214.35 439.45) scale(1.000 1)">0.0471</text>
<text transform="translate(243.05 439.45) scale(1.000 1)">0.0039</text>
<text transform="translate(271.75 439.45) scale(1.000 1)">0.0056</text>
<text transform="translate(214.35 464.20) scale(1.000 1)">1.0000</text>
<text transform="translate(243.05 464.20) scale(1.000 1)">0.0063</text>
<text transform="translate(271.75 464.20) scale(1.000 1)">0.0326</text>
<text transform="translate(243.05 488.95) scale(1.000 1)">1.0000</text>
<text transform="translate(271.75 488.95) scale(1.000 1)">-0.0711</text>
<text transform="translate(271.75 513.70) scale(1.000 1)">1.0000</text>
</g>
<g font-family="Liberation Serif" font-weight="bold" font-size="7.70" fill="#000" stroke="#000" stroke-width="0.07" text-anchor="end">
<text x="52.60" y="342.42">Milk yield, kg/d</text>
<text x="85.00" y="366.57">MFP, %</text>
<text x="61.40" y="390.72" text-anchor="start">4% FCM, k</text>
<text x="141.50" y="390.72" text-anchor="start">g/d</text>
<text x="141.00" y="416.07">MPP, %</text>
<text x="170.60" y="440.82">MF/MP</text>
<text x="199.50" y="465.57">SCC, 10<tspan dy="-2.6" font-size="4.6">4</tspan><tspan dy="2.6">/mL</tspan></text>
<text x="228.50" y="490.32">SCS</text>
<text x="256.00" y="515.07">MUN content, mg/dL</text>
</g>
<g font-family="Liberation Serif" font-weight="bold" font-size="7.75" fill="#000" stroke="#000" stroke-width="0.07">
<text transform="translate(70.65 323.60) rotate(-60)">Milk yield, kg/d</text>
<text transform="translate(99.35 323.60) rotate(-60)">MFP, %</text>
<text transform="translate(128.05 323.60) rotate(-60)">4% FCM, kg/d</text>
<text transform="translate(156.75 323.60) rotate(-60)">MPP, %</text>
<text transform="translate(185.45 323.60) rotate(-60)">MF/MP</text>
<text transform="translate(214.15 323.60) rotate(-60)">SCC, 10<tspan dy="-2.6" font-size="4.6">4</tspan><tspan dy="2.6">/mL</tspan></text>
<text transform="translate(242.85 323.60) rotate(-60)">SCS</text>
<text transform="translate(271.55 323.60) rotate(-60)">MUN content, mg/dL</text>
</g>
<defs><linearGradient id="gC" x1="0" y1="0" x2="0" y2="1"><stop offset="0" stop-color="#5f3c9e"/><stop offset="0.5" stop-color="#ffffff"/><stop offset="1" stop-color="#e86820"/></linearGradient></defs>
<rect x="289.70" y="325.00" width="8.60" height="198.20" fill="url(#gC)"/>
<line x1="290.15" y1="325.00" x2="290.15" y2="523.20" stroke="#222" stroke-width="0.9"/>
<line x1="289.70" y1="324.80" x2="299.80" y2="324.80" stroke="#999" stroke-width="0.7"/>
<line x1="289.70" y1="523.40" x2="299.80" y2="523.40" stroke="#333" stroke-width="0.9"/>
<line x1="298.30" y1="325.00" x2="298.30" y2="523.20" stroke="#999" stroke-width="0.6"/>
<g font-family="Liberation Sans" font-size="7.6" fill="#222" text-anchor="middle">
<text transform="translate(307.00 328.20) scale(1.0 1)">1</text>
<text transform="translate(307.00 348.02) scale(1.0 1)">0.8</text>
<line x1="298.30" y1="344.82" x2="299.90" y2="344.82" stroke="#444" stroke-width="0.7"/>
<text transform="translate(307.00 367.84) scale(1.0 1)">0.6</text>
<line x1="298.30" y1="364.64" x2="299.90" y2="364.64" stroke="#444" stroke-width="0.7"/>
<text transform="translate(307.00 387.66) scale(1.0 1)">0.4</text>
<line x1="298.30" y1="384.46" x2="299.90" y2="384.46" stroke="#444" stroke-width="0.7"/>
<text transform="translate(307.00 407.48) scale(1.0 1)">0.2</text>
<line x1="298.30" y1="404.28" x2="299.90" y2="404.28" stroke="#444" stroke-width="0.7"/>
<text transform="translate(307.00 427.30) scale(1.0 1)">0</text>
<line x1="298.30" y1="424.10" x2="299.90" y2="424.10" stroke="#444" stroke-width="0.7"/>
<text transform="translate(307.00 447.12) scale(1.0 1)">-0.2</text>
<line x1="298.30" y1="443.92" x2="299.90" y2="443.92" stroke="#444" stroke-width="0.7"/>
<text transform="translate(307.00 466.94) scale(1.0 1)">-0.4</text>
<line x1="298.30" y1="463.74" x2="299.90" y2="463.74" stroke="#444" stroke-width="0.7"/>
<text transform="translate(307.00 486.76) scale(1.0 1)">-0.6</text>
<line x1="298.30" y1="483.56" x2="299.90" y2="483.56" stroke="#444" stroke-width="0.7"/>
<text transform="translate(307.00 506.58) scale(1.0 1)">-0.8</text>
<line x1="298.30" y1="503.38" x2="299.90" y2="503.38" stroke="#444" stroke-width="0.7"/>
<text transform="translate(307.00 526.40) scale(1.0 1)">-1</text>
</g>
<text transform="translate(13.30 300.50) scale(1.000 1)" font-family="Liberation Serif" font-weight="bold" font-size="27.00" fill="#000">C</text>
<g fill="none" stroke="#e4e4e4" stroke-width="0.8">
<rect x="425.20" y="321.10" width="28.80" height="24.40"/>
<rect x="454.00" y="321.10" width="28.80" height="24.40"/>
<rect x="482.80" y="321.10" width="28.80" height="24.40"/>
<rect x="511.60" y="321.10" width="28.80" height="24.40"/>
<rect x="540.40" y="321.10" width="28.80" height="24.40"/>
<rect x="569.20" y="321.10" width="28.80" height="24.40"/>
<rect x="598.00" y="321.10" width="28.80" height="24.40"/>
<rect x="626.80" y="321.10" width="28.80" height="24.40"/>
<rect x="454.00" y="345.50" width="28.80" height="24.40"/>
<rect x="482.80" y="345.50" width="28.80" height="24.40"/>
<rect x="511.60" y="345.50" width="28.80" height="24.40"/>
<rect x="540.40" y="345.50" width="28.80" height="24.40"/>
<rect x="569.20" y="345.50" width="28.80" height="24.40"/>
<rect x="598.00" y="345.50" width="28.80" height="24.40"/>
<rect x="626.80" y="345.50" width="28.80" height="24.40"/>
<rect x="482.80" y="369.90" width="28.80" height="24.40"/>
<rect x="511.60" y="369.90" width="28.80" height="24.40"/>
<rect x="540.40" y="369.90" width="28.80" height="24.40"/>
<rect x="569.20" y="369.90" width="28.80" height="24.40"/>
<rect x="598.00" y="369.90" width="28.80" height="24.40"/>
<rect x="626.80" y="369.90" width="28.80" height="24.40"/>
<rect x="511.60" y="394.30" width="28.80" height="24.40"/>
<rect x="540.40" y="394.30" width="28.80" height="24.40"/>
<rect x="569.20" y="394.30" width="28.80" height="24.40"/>
<rect x="598.00" y="394.30" width="28.80" height="24.40"/>
<rect x="626.80" y="394.30" width="28.80" height="24.40"/>
<rect x="540.40" y="418.70" width="28.80" height="24.40"/>
<rect x="569.20" y="418.70" width="28.80" height="24.40"/>
<rect x="598.00" y="418.70" width="28.80" height="24.40"/>
<rect x="626.80" y="418.70" width="28.80" height="24.40"/>
<rect x="569.20" y="443.10" width="28.80" height="24.40"/>
<rect x="598.00" y="443.10" width="28.80" height="24.40"/>
<rect x="626.80" y="443.10" width="28.80" height="24.40"/>
<rect x="598.00" y="467.50" width="28.80" height="24.40"/>
<rect x="626.80" y="467.50" width="28.80" height="24.40"/>
<rect x="626.80" y="491.90" width="28.80" height="24.40"/>
</g>
<g transform="translate(425.20 321.10) scale(28.800 24.400)">
<line x1="0.075" y1="0.925" x2="0.925" y2="0.075" stroke="#1a1a1a" stroke-width="1.0" vector-effect="non-scaling-stroke"/>
<ellipse cx="1.500" cy="0.500" rx="0.4331" ry="0.4167" transform="rotate(-45 1.500 0.500)" fill="#f9f7fb" stroke="#111" stroke-width="0.75" vector-effect="non-scaling-stroke"/>
<ellipse cx="2.500" cy="0.500" rx="0.5866" ry="0.1308" transform="rotate(-45 2.500 0.500)" fill="#6e4ea7" stroke="#111" stroke-width="0.75" vector-effect="non-scaling-stroke"/>
<ellipse cx="3.500" cy="0.500" rx="0.4222" ry="0.4278" transform="rotate(-45 3.500 0.500)" fill="#fffdfc" stroke="#111" stroke-width="0.75" vector-effect="non-scaling-stroke"/>
<ellipse cx="4.500" cy="0.500" rx="0.4354" ry="0.4143" transform="rotate(-45 4.500 0.500)" fill="#f7f5fa" stroke="#111" stroke-width="0.75" vector-effect="non-scaling-stroke"/>
<ellipse cx="5.500" cy="0.500" rx="0.4346" ry="0.4152" transform="rotate(-45 5.500 0.500)" fill="#f8f6fb" stroke="#111" stroke-width="0.75" vector-effect="non-scaling-stroke"/>
<ellipse cx="6.500" cy="0.500" rx="0.4268" ry="0.4232" transform="rotate(-45 6.500 0.500)" fill="#fefdfe" stroke="#111" stroke-width="0.75" vector-effect="non-scaling-stroke"/>
<ellipse cx="7.500" cy="0.500" rx="0.4325" ry="0.4174" transform="rotate(-45 7.500 0.500)" fill="#f9f8fc" stroke="#111" stroke-width="0.75" vector-effect="non-scaling-stroke"/>
<line x1="1.075" y1="1.925" x2="1.925" y2="1.075" stroke="#1a1a1a" stroke-width="1.0" vector-effect="non-scaling-stroke"/>
<ellipse cx="2.500" cy="1.500" rx="0.5099" ry="0.3181" transform="rotate(-45 2.500 1.500)" fill="#b9a9d4" stroke="#111" stroke-width="0.75" vector-effect="non-scaling-stroke"/>
<ellipse cx="3.500" cy="1.500" rx="0.5238" ry="0.2948" transform="rotate(-45 3.500 1.500)" fill="#ac9acd" stroke="#111" stroke-width="0.75" vector-effect="non-scaling-stroke"/>
<ellipse cx="4.500" cy="1.500" rx="0.5810" ry="0.1539" transform="rotate(-45 4.500 1.500)" fill="#7456ab" stroke="#111" stroke-width="0.75" vector-effect="non-scaling-stroke"/>
<ellipse cx="5.500" cy="1.500" rx="0.4407" ry="0.4087" transform="rotate(-45 5.500 1.500)" fill="#f3f0f8" stroke="#111" stroke-width="0.75" vector-effect="non-scaling-stroke"/>
<ellipse cx="6.500" cy="1.500" rx="0.4283" ry="0.4217" transform="rotate(-45 6.500 1.500)" fill="#fdfcfe" stroke="#111" stroke-width="0.75" vector-effect="non-scaling-stroke"/>
<ellipse cx="7.500" cy="1.500" rx="0.4205" ry="0.4294" transform="rotate(-45 7.500 1.500)" fill="#fffcfa" stroke="#111" stroke-width="0.75" vector-effect="non-scaling-stroke"/>
<line x1="2.075" y1="2.925" x2="2.925" y2="2.075" stroke="#1a1a1a" stroke-width="1.0" vector-effect="non-scaling-stroke"/>
<ellipse cx="3.500" cy="2.500" rx="0.4649" ry="0.3810" transform="rotate(-45 3.500 2.500)" fill="#e0d9ec" stroke="#111" stroke-width="0.75" vector-effect="non-scaling-stroke"/>
<ellipse cx="4.500" cy="2.500" rx="0.5020" ry="0.3305" transform="rotate(-45 4.500 2.500)" fill="#c0b2d9" stroke="#111" stroke-width="0.75" vector-effect="non-scaling-stroke"/>
<ellipse cx="5.500" cy="2.500" rx="0.4394" ry="0.4101" transform="rotate(-45 5.500 2.500)" fill="#f4f2f8" stroke="#111" stroke-width="0.75" vector-effect="non-scaling-stroke"/>
<ellipse cx="6.500" cy="2.500" rx="0.4284" ry="0.4216" transform="rotate(-45 6.500 2.500)" fill="#fcfcfd" stroke="#111" stroke-width="0.75" vector-effect="non-scaling-stroke"/>
<ellipse cx="7.500" cy="2.500" rx="0.4297" ry="0.4203" transform="rotate(-45 7.500 2.500)" fill="#fbfbfd" stroke="#111" stroke-width="0.75" vector-effect="non-scaling-stroke"/>
<line x1="3.075" y1="3.925" x2="3.925" y2="3.075" stroke="#1a1a1a" stroke-width="1.0" vector-effect="non-scaling-stroke"/>
<ellipse cx="4.500" cy="3.500" rx="0.4307" ry="0.4193" transform="rotate(-45 4.500 3.500)" fill="#fbfafc" stroke="#111" stroke-width="0.75" vector-effect="non-scaling-stroke"/>
<ellipse cx="5.500" cy="3.500" rx="0.4556" ry="0.3920" transform="rotate(-45 5.500 3.500)" fill="#e7e2f1" stroke="#111" stroke-width="0.75" vector-effect="non-scaling-stroke"/>
<ellipse cx="6.500" cy="3.500" rx="0.4243" ry="0.4257" transform="rotate(-45 6.500 3.500)" fill="#fffffe" stroke="#111" stroke-width="0.75" vector-effect="non-scaling-stroke"/>
<ellipse cx="7.500" cy="3.500" rx="0.4202" ry="0.4298" transform="rotate(-45 7.500 3.500)" fill="#fefcfa" stroke="#111" stroke-width="0.75" vector-effect="non-scaling-stroke"/>
<line x1="4.075" y1="4.925" x2="4.925" y2="4.075" stroke="#1a1a1a" stroke-width="1.0" vector-effect="non-scaling-stroke"/>
<ellipse cx="5.500" cy="4.500" rx="0.4272" ry="0.4228" transform="rotate(-45 5.500 4.500)" fill="#fdfdfe" stroke="#111" stroke-width="0.75" vector-effect="non-scaling-stroke"/>
<ellipse cx="6.500" cy="4.500" rx="0.4291" ry="0.4209" transform="rotate(-45 6.500 4.500)" fill="#fcfbfd" stroke="#111" stroke-width="0.75" vector-effect="non-scaling-stroke"/>
<ellipse cx="7.500" cy="4.500" rx="0.4228" ry="0.4272" transform="rotate(-45 7.500 4.500)" fill="#fffdfd" stroke="#111" stroke-width="0.75" vector-effect="non-scaling-stroke"/>
<line x1="5.075" y1="5.925" x2="5.925" y2="5.075" stroke="#1a1a1a" stroke-width="1.0" vector-effect="non-scaling-stroke"/>
<ellipse cx="6.500" cy="5.500" rx="0.4250" ry="0.4250" transform="rotate(-45 6.500 5.500)" fill="#ffffff" stroke="#111" stroke-width="0.75" vector-effect="non-scaling-stroke"/>
<ellipse cx="7.500" cy="5.500" rx="0.4344" ry="0.4153" transform="rotate(-45 7.500 5.500)" fill="#f8f6fb" stroke="#111" stroke-width="0.75" vector-effect="non-scaling-stroke"/>
<line x1="6.075" y1="6.925" x2="6.925" y2="6.075" stroke="#1a1a1a" stroke-width="1.0" vector-effect="non-scaling-stroke"/>
<ellipse cx="7.500" cy="6.500" rx="0.4036" ry="0.4454" transform="rotate(-45 7.500 6.500)" fill="#fdf0e9" stroke="#111" stroke-width="0.75" vector-effect="non-scaling-stroke"/>
<line x1="7.075" y1="7.925" x2="7.925" y2="7.075" stroke="#1a1a1a" stroke-width="1.0" vector-effect="non-scaling-stroke"/>
</g>
<g font-family="Liberation Sans" font-weight="bold" font-size="6.60" fill="#000" text-anchor="middle">
<text transform="translate(440.60 336.18) scale(1.000 1)">1.0000</text>
<text transform="translate(469.40 336.18) scale(1.000 1)">0.0385</text>
<text transform="translate(498.20 336.18) scale(1.000 1)">0.9053</text>
<text transform="translate(527.00 336.18) scale(1.000 1)">-0.0131</text>
<text transform="translate(555.80 336.18) scale(1.000 1)">0.0497</text>
<text transform="translate(584.60 336.18) scale(1.000 1)">0.0456</text>
<text transform="translate(613.40 336.18) scale(1.000 1)">0.0085</text>
<text transform="translate(642.20 336.18) scale(1.000 1)">0.0356</text>
<text transform="translate(469.40 360.58) scale(1.000 1)">1.0000</text>
<text transform="translate(498.20 360.58) scale(1.000 1)">0.4397</text>
<text transform="translate(527.00 360.58) scale(1.000 1)">0.5190</text>
<text transform="translate(555.80 360.58) scale(1.000 1)">0.8689</text>
<text transform="translate(584.60 360.58) scale(1.000 1)">0.0753</text>
<text transform="translate(613.40 360.58) scale(1.000 1)">0.0154</text>
<text transform="translate(642.20 360.58) scale(1.000 1)">-0.0209</text>
<text transform="translate(498.20 384.98) scale(1.000 1)">1.0000</text>
<text transform="translate(527.00 384.98) scale(1.000 1)">0.1965</text>
<text transform="translate(555.80 384.98) scale(1.000 1)">0.3952</text>
<text transform="translate(584.60 384.98) scale(1.000 1)">0.0691</text>
<text transform="translate(613.40 384.98) scale(1.000 1)">0.0160</text>
<text transform="translate(642.20 384.98) scale(1.000 1)">0.0221</text>
<text transform="translate(527.00 409.38) scale(1.000 1)">1.0000</text>
<text transform="translate(555.80 409.38) scale(1.000 1)">0.0268</text>
<text transform="translate(584.60 409.38) scale(1.000 1)">0.1492</text>
<text transform="translate(613.40 409.38) scale(1.000 1)">-0.0031</text>
<text transform="translate(642.20 409.38) scale(1.000 1)">-0.0226</text>
<text transform="translate(555.80 433.78) scale(1.000 1)">1.0000</text>
<text transform="translate(584.60 433.78) scale(1.000 1)">0.0105</text>
<text transform="translate(613.40 433.78) scale(1.000 1)">0.0193</text>
<text transform="translate(642.20 433.78) scale(1.000 1)">-0.0104</text>
<text transform="translate(584.60 458.18) scale(1.000 1)">1.0000</text>
<text transform="translate(613.40 458.18) scale(1.000 1)">-0.0002</text>
<text transform="translate(642.20 458.18) scale(1.000 1)">0.0449</text>
<text transform="translate(613.40 482.58) scale(1.000 1)">1.0000</text>
<text transform="translate(642.20 482.58) scale(1.000 1)">-0.0983</text>
<text transform="translate(642.20 506.98) scale(1.000 1)">1.0000</text>
</g>
<g font-family="Liberation Serif" font-weight="bold" font-size="7.70" fill="#000" stroke="#000" stroke-width="0.07" text-anchor="end">
<text x="420.90" y="336.44">Milk yield, kg/d</text>
<text x="453.40" y="360.84">MFP, %</text>
<text x="479.50" y="385.24">4% FCM, kg/d</text>
<text x="509.70" y="409.64">MPP, %</text>
<text x="539.30" y="434.04">MF/MP</text>
<text x="569.10" y="458.44">SCC, 10<tspan dy="-2.6" font-size="4.6">4</tspan><tspan dy="2.6">/mL</tspan></text>
<text x="597.40" y="482.84">SCS</text>
<text x="626.20" y="507.24">MUN content, mg/dL</text>
</g>
<g font-family="Liberation Serif" font-weight="bold" font-size="7.60" fill="#000" stroke="#000" stroke-width="0.07">
<text transform="translate(440.40 319.80) rotate(-60)">Milk yield, kg/d</text>
<text transform="translate(469.20 319.80) rotate(-60)">MFP, %</text>
<text transform="translate(498.00 319.80) rotate(-60)">4% FCM, kg/d</text>
<text transform="translate(526.80 319.80) rotate(-60)">MPP, %</text>
<text transform="translate(555.60 319.80) rotate(-60)">MF/MP</text>
<text transform="translate(584.40 319.80) rotate(-60)">SCC, 10<tspan dy="-2.6" font-size="4.6">4</tspan><tspan dy="2.6">/mL</tspan></text>
<text transform="translate(613.20 319.80) rotate(-60)">SCS</text>
<text transform="translate(642.00 319.80) rotate(-60)">MUN content, mg/dL</text>
</g>
<defs><linearGradient id="gD" x1="0" y1="0" x2="0" y2="1"><stop offset="0" stop-color="#5f3c9e"/><stop offset="0.5" stop-color="#ffffff"/><stop offset="1" stop-color="#e86820"/></linearGradient></defs>
<rect x="659.80" y="321.10" width="8.00" height="195.20" fill="url(#gD)"/>
<line x1="660.25" y1="321.10" x2="660.25" y2="516.30" stroke="#222" stroke-width="0.9"/>
<line x1="659.80" y1="320.90" x2="669.30" y2="320.90" stroke="#999" stroke-width="0.7"/>
<line x1="659.80" y1="516.50" x2="669.30" y2="516.50" stroke="#333" stroke-width="0.9"/>
<line x1="667.80" y1="321.10" x2="667.80" y2="516.30" stroke="#999" stroke-width="0.6"/>
<g font-family="Liberation Sans" font-size="7.6" fill="#222" text-anchor="middle">
<text transform="translate(677.20 324.30) scale(1.0 1)">1</text>
<text transform="translate(677.20 343.82) scale(1.0 1)">0.8</text>
<line x1="667.80" y1="340.62" x2="669.40" y2="340.62" stroke="#444" stroke-width="0.7"/>
<text transform="translate(677.20 363.34) scale(1.0 1)">0.6</text>
<line x1="667.80" y1="360.14" x2="669.40" y2="360.14" stroke="#444" stroke-width="0.7"/>
<text transform="translate(677.20 382.86) scale(1.0 1)">0.4</text>
<line x1="667.80" y1="379.66" x2="669.40" y2="379.66" stroke="#444" stroke-width="0.7"/>
<text transform="translate(677.20 402.38) scale(1.0 1)">0.2</text>
<line x1="667.80" y1="399.18" x2="669.40" y2="399.18" stroke="#444" stroke-width="0.7"/>
<text transform="translate(677.20 421.90) scale(1.0 1)">0</text>
<line x1="667.80" y1="418.70" x2="669.40" y2="418.70" stroke="#444" stroke-width="0.7"/>
<text transform="translate(677.20 441.42) scale(1.0 1)">-0.2</text>
<line x1="667.80" y1="438.22" x2="669.40" y2="438.22" stroke="#444" stroke-width="0.7"/>
<text transform="translate(677.20 460.94) scale(1.0 1)">-0.4</text>
<line x1="667.80" y1="457.74" x2="669.40" y2="457.74" stroke="#444" stroke-width="0.7"/>
<text transform="translate(677.20 480.46) scale(1.0 1)">-0.6</text>
<line x1="667.80" y1="477.26" x2="669.40" y2="477.26" stroke="#444" stroke-width="0.7"/>
<text transform="translate(677.20 499.98) scale(1.0 1)">-0.8</text>
<line x1="667.80" y1="496.78" x2="669.40" y2="496.78" stroke="#444" stroke-width="0.7"/>
<text transform="translate(677.20 519.50) scale(1.0 1)">-1</text>
</g>
<text transform="translate(379.80 301.00) scale(1.000 1)" font-family="Liberation Serif" font-weight="bold" font-size="26.00" fill="#000">D</text>
</svg></body></html>
